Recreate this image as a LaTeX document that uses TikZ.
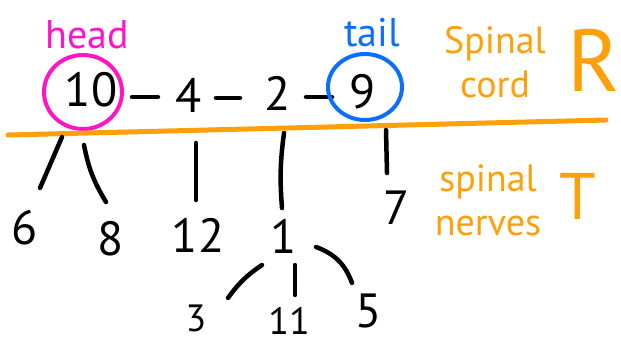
\documentclass[tikz,border=0pt]{standalone}
\usepackage{fontspec}
\setmainfont{PT Sans}
\usetikzlibrary{positioning,calc}
\definecolor{headpink}{RGB}{255,20,200}
\definecolor{tailblue}{RGB}{10,110,255}
\definecolor{cordorange}{RGB}{255,160,10}

\begin{document}
\begin{tikzpicture}[x=1pt,y=-1pt,
    num/.style={inner sep=0pt, font=\fontsize{48}{48}\selectfont},
    smallnum/.style={inner sep=0pt, font=\fontsize{38}{38}\selectfont},
    nerve/.style={line width=4.5pt, line cap=round},
    note/.style={cordorange, inner sep=0pt, align=center, font=\fontsize{38}{44}\selectfont}]
    \useasboundingbox (0,0) rectangle (621,349);

    % Spinal cord: the list itself
    \node[num] (n10) at (91,90) {10};
    \node[num] (n4) at (189,95) {4};
    \node[num] (n2) at (278,93) {2};
    \node[num] (n9) at (363,92) {9};
    \draw[nerve] ($(n10)+(41,7)$) -- ($(n4)+(-31,2)$);
    \draw[nerve] ($(n4)+(27,3)$) -- ($(n2)+(-38,5)$);
    \draw[nerve] ($(n2)+(28,4)$) -- ($(n9)+(-31,5)$);

    % head and tail markers
    \draw[headpink, line width=4pt] (83,92) ellipse (39 and 37);
    \node[headpink, inner sep=0pt, font=\fontsize{40}{40}\selectfont] (head) at (87,35) {head};
    \draw[tailblue, line width=4pt] (365,87) ellipse (37 and 33);
    \node[tailblue, inner sep=0pt, font=\fontsize{40}{40}\selectfont] (tail) at (372,33) {tail};

    % cord line and labels
    \draw[cordorange, line width=5pt, line cap=round] (8,135) -- (606,120);
    \node[note] (cord) at (495,62) {Spinal\\cord};
    \node[cordorange, inner sep=0pt, font=\fontsize{88}{88}\selectfont] (R) at (594,60) {R};

    % Spinal nerves hanging off the cord
    \node[num] (n6) at (25,228) {6};
    \node[num] (n8) at (111,239) {8};
    \node[num] (n12) at (198,235) {12};
    \node[num] (n1) at (284,236) {1};
    \node[num] (n7) at (397,208) {7};
    \draw[nerve] ($(n10)+(-29,47)$) -- ($(n6)+(15,-40)$);
    \draw[nerve] ($(n10)+(-7,55)$) to[bend right=10] ($(n8)+(-5,-37)$);
    \draw[nerve] ($(n4)+(7,48)$) -- ($(n12)+(-2,-35)$);
    \draw[nerve] ($(n2)+(6,40)$) to[bend right=6] ($(n1)+(-2,-28)$);
    \draw[nerve] ($(n9)+(23,38)$) -- ($(n7)+(-10,-35)$);

    % children of 1
    \node[smallnum] (n3) at (196,318) {3};
    \node[smallnum] (n11) at (289,321) {11};
    \node[num] (n5) at (369,311) {5};
    \draw[nerve] ($(n1)+(-22,29)$) to[bend right=10] ($(n3)+(32,-20)$);
    \draw[nerve] ($(n1)+(11,29)$) -- ($(n11)+(6,-26)$);
    \draw[nerve] ($(n1)+(32,11)$) to[bend left=25] ($(n5)+(-17,-28)$);

    \node[note] (nerves) at (488,200) {spinal\\nerves};
    \node[cordorange, inner sep=0pt, font=\fontsize{66}{66}\selectfont] (T) at (578,196) {T};
\end{tikzpicture}
\end{document}
